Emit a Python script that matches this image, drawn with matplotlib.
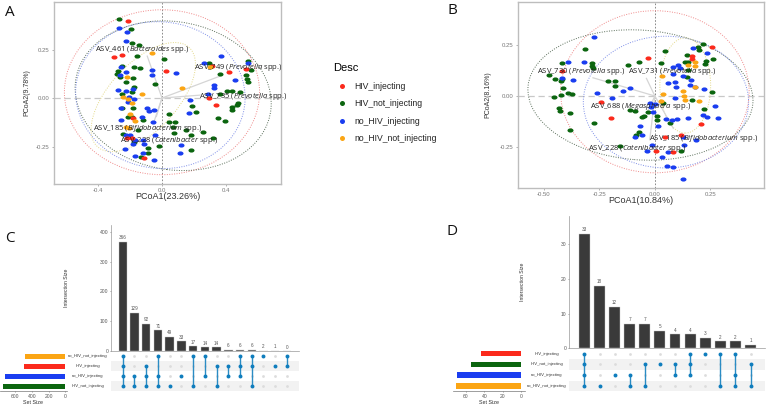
import matplotlib
matplotlib.use("Agg")
import matplotlib.pyplot as plt
from matplotlib.lines import Line2D
from matplotlib.markers import MarkerStyle
from matplotlib.patches import Ellipse
from matplotlib.transforms import Affine2D, blended_transform_factory

plt.rcParams['font.family'] = ['Liberation Sans', 'DejaVu Sans']
plt.rcParams['mathtext.fontset'] = 'custom'
plt.rcParams['mathtext.it'] = 'Open Sans:italic'
plt.rcParams['mathtext.rm'] = 'Open Sans'

W, H = 767, 404

RED = '#fb2a1c'
GREEN = '#0b650f'
BLUE = '#1a3df0'
ORANGE = '#fba514'
ELLIPSE_DARK = '#5a6e5a'
group_names = ['HIV_injecting', 'HIV_not_injecting', 'no_HIV_injecting', 'no_HIV_not_injecting']
group_colors = [RED, GREEN, BLUE, ORANGE]

# Panel A points
a_green_x = [-0.267, -0.196, -0.185, -0.142, -0.158, -0.252, -0.273, -0.279, -0.263, -0.225, -0.173, -0.138, -0.179,
             -0.175, -0.190, -0.252, -0.183, -0.252, -0.210, -0.190, -0.117, -0.246, -0.148, -0.175, -0.017, -0.085,
             -0.133, -0.085, 0.015, -0.044, 0.044, 0.046, 0.081, 0.071, 0.075, 0.150, 0.258, 0.179, 0.321, 0.181,
             0.294, 0.363, 0.540, 0.554, 0.525, 0.540, 0.533, 0.404, 0.435, 0.488, 0.363, 0.440, 0.471, 0.473, 0.435,
             0.352, 0.394, 0.185, 0.213]
a_green_y = [0.409, 0.356, 0.282, 0.273, 0.216, 0.165, 0.141, 0.124, 0.107, 0.081, 0.162, 0.156, 0.101,
             0.055, 0.033, 0.019, -0.050, -0.053, -0.096, -0.100, -0.113, -0.186, -0.165, -0.225, -0.247, -0.259,
             -0.306, -0.285, 0.201, 0.072, -0.084, -0.125, -0.124, -0.148, -0.182, -0.165, -0.174, -0.191, -0.204,
             -0.268, 0.182, 0.124, 0.189, 0.144, 0.119, 0.084, 0.098, 0.036, 0.036, 0.031, 0.019, -0.048, -0.036,
             -0.027, -0.062, -0.105, -0.119, -0.041, -0.070]
a_blue_x = [-0.267, -0.217, -0.225, -0.256, -0.225, -0.263, -0.273, -0.225, -0.179, -0.204, -0.173, -0.210, -0.256,
            -0.096, -0.081, -0.050, -0.127, -0.054, -0.258, -0.225, -0.200, -0.169, -0.117, -0.113, -0.179, -0.231,
            -0.169, -0.121, -0.050, -0.044, 0.113, 0.119, -0.065, -0.060, 0.085, 0.175, 0.171, 0.265, 0.327, 0.327,
            0.369, 0.456, 0.540, 0.290]
a_blue_y = [0.363, 0.338, 0.294, 0.162, 0.136, 0.119, 0.041, 0.036, 0.045, 0.007, -0.007, -0.019, -0.053,
            -0.053, -0.067, -0.062, -0.100, -0.125, -0.113, -0.191, -0.191, -0.216, -0.216, -0.237, -0.237, -0.263,
            -0.299, -0.285, -0.320, -0.191, -0.282, -0.242, 0.144, 0.119, 0.127, -0.010, -0.076, 0.179, 0.067, 0.053,
            0.215, 0.095, 0.182, 0.019]
a_red_x = [-0.215, -0.298, -0.248, 0.023, 0.310, 0.417, 0.525, 0.296, 0.338, -0.179, -0.217, -0.190, -0.113]
a_red_y = [0.399, 0.213, 0.222, 0.141, 0.165, 0.136, 0.148, -0.002, -0.038, -0.105, -0.208, -0.208, -0.309]
a_orange_x = [-0.065, -0.217, 0.127, -0.123, -0.246, -0.210, -0.190, -0.200, -0.169, -0.225, -0.204, 0.300]
a_orange_y = [0.230, 0.107, 0.050, 0.022, 0.003, -0.007, -0.027, -0.084, -0.117, -0.148, -0.156, 0.158]

# center x, center y, width, height, angle for each ellipse
a_ellipses = [(0.0, 0.03, 1.22, 0.85, 0, '#f08a8a'),
              (0.07, 0.012, 1.23, 0.765, -6, ELLIPSE_DARK),
              (-0.01, 0.015, 1.06, 0.756, -3, '#7f8fe8'),
              (-0.117, 0.005, 0.773, 0.38, 38, '#e3d98a')]

a_labels = ['ASV_461 ($\\mathit{Bacteroides}$ spp.)', 'ASV_749 ($\\mathit{Prevotella}$ spp.)',
            'ASV_735 ($\\mathit{Prevotella}$ spp.)', 'ASV_185 ($\\mathit{Bifidobacterium}$ spp.)',
            'ASV_228 ($\\mathit{Catenibacter}$ spp.)']
a_label_x = [-0.419, 0.200, 0.229, -0.429, -0.263]
a_label_y = [0.251, 0.156, 0.010, -0.155, -0.220]
a_tip_x = [-0.092, 0.363, 0.238, -0.050, -0.035]
a_tip_y = [0.216, 0.113, 0.015, -0.122, -0.095]

# Panel B points
b_green_x = [-0.316, -0.417, -0.283, -0.282, -0.279, -0.477, -0.449, -0.425, -0.420, -0.414, -0.392, -0.373, -0.422,
             -0.456, -0.434, -0.429, -0.383, -0.384, -0.274, -0.211, -0.178, -0.181, -0.123, -0.071, 0.029, 0.044,
             -0.113, -0.090, -0.060, -0.050, -0.030, 0.011, 0.011, 0.038, 0.068, -0.072, -0.083, -0.158, 0.120, 0.143,
             0.151, 0.136, 0.218, 0.196, 0.200, 0.229, 0.226, 0.261, 0.146, 0.151, 0.259, 0.221, 0.169]
b_green_y = [0.230, 0.164, 0.161, 0.148, 0.136, 0.102, 0.085, 0.074, 0.082, 0.038, 0.013, 0.008, 0.005,
             -0.007, -0.061, -0.072, -0.085, -0.170, -0.134, 0.075, 0.072, 0.051, 0.152, 0.167, 0.164, 0.223,
             -0.069, -0.072, -0.105, -0.098, -0.077, -0.098, -0.118, -0.033, -0.131, -0.180, -0.192, -0.246, -0.270,
             0.202, 0.169, 0.169, 0.259, 0.243, 0.226, 0.172, 0.157, 0.184, 0.095, 0.128, 0.021, -0.064, -0.020]
b_blue_x = [-0.276, -0.390, -0.319, -0.419, -0.369, -0.261, -0.194, -0.145, -0.114, -0.023, -0.018, -0.008, 0.012,
            -0.066, -0.089, -0.057, -0.015, -0.035, 0.030, 0.056, 0.083, 0.127, 0.131, 0.060, 0.128, 0.185, 0.075,
            0.101, 0.151, 0.050, 0.218, 0.233, 0.283, 0.271, 0.223, 0.173, 0.233, 0.080, 0.105, 0.113, 0.083, 0.059,
            0.090, 0.095, 0.125, 0.090, 0.158, 0.161, 0.181, 0.000]
b_blue_y = [0.289, 0.166, 0.166, 0.087, 0.079, 0.013, -0.011, 0.026, 0.041, -0.036, -0.056, -0.077, -0.148,
            -0.148, -0.200, -0.192, -0.244, -0.269, -0.302, -0.343, -0.352, -0.410, -0.244, -0.274, -0.203, -0.216,
            -0.118, -0.113, -0.107, -0.113, -0.093, -0.102, -0.110, -0.049, 0.033, 0.238, 0.210, 0.144, 0.152, 0.136,
            0.108, 0.062, 0.070, 0.046, 0.098, -0.008, 0.054, 0.079, 0.043, -0.039]
b_red_x = [-0.030, -0.420, -0.245, -0.196, 0.256, 0.166, 0.166, 0.206, 0.116, 0.045, 0.003, 0.083]
b_red_y = [0.190, 0.121, -0.028, -0.107, 0.243, 0.198, 0.182, -0.138, -0.192, -0.203, -0.269, -0.277]
b_orange_x = [0.151, 0.181, 0.181, 0.030, 0.128, 0.181, 0.133, 0.136, 0.199, 0.038, 0.026]
b_orange_y = [0.154, 0.166, 0.149, 0.100, 0.026, 0.043, 0.000, -0.020, -0.026, 0.010, -0.025]

b_ellipses = [(0.0, 0.021, 0.85, 0.80, 0, '#f08a8a'),
              (-0.065, 0.005, 1.017, 0.64, -5, ELLIPSE_DARK),
              (0.05, -0.03, 0.745, 0.65, 0, '#7f8fe8'),
              (0.137, 0.052, 0.229, 0.47, 0, '#e3d98a')]

b_labels = ['ASV_730 ($\\mathit{Prevotella}$ spp.)', 'ASV_731 ($\\mathit{Prevotella}$ spp.)',
            'ASV_688 ($\\mathit{Megasphaera}$ spp.)', 'ASV_185 ($\\mathit{Bifidobacterium}$ spp.)',
            'ASV_228 ($\\mathit{Catenibacter}$ spp.)']
b_label_x = [-0.532, -0.119, -0.291, -0.027, -0.303]
b_label_y = [0.123, 0.123, -0.052, -0.208, -0.261]
b_tip_x = [-0.279, -0.038, -0.030, 0.083, -0.023]
b_tip_y = [0.090, 0.087, -0.069, -0.159, -0.216]

# Panel C upset
c_sizes = [366, 129, 92, 71, 49, 33, 17, 14, 14, 6, 6, 6, 2, 1, 0]
c_sets = ['no_HIV_not_injecting', 'HIV_injecting', 'no_HIV_injecting', 'HIV_not_injecting']
c_set_sizes = [484, 492, 718, 746]
c_set_colors = [ORANGE, RED, BLUE, GREEN]
c_members = [[0, 1, 2, 3], [2, 3], [1, 2, 3], [0, 2, 3], [3], [2], [0, 3], [0, 2], [1, 3], [1, 2],
             [0, 1, 2], [0, 1, 3], [0], [1], [0, 1]]
c_yticks = [0, 100, 200, 300, 400]
c_set_ticks = [600, 400, 200, 0]

# Panel D upset
d_sizes = [33, 18, 12, 7, 7, 5, 4, 4, 3, 2, 2, 1]
d_sets = ['HIV_injecting', 'HIV_not_injecting', 'no_HIV_injecting', 'no_HIV_not_injecting']
d_set_sizes = [44, 54, 69, 70]
d_set_colors = [RED, GREEN, BLUE, ORANGE]
d_members = [[0, 1, 2, 3], [3], [2], [2, 3], [1, 3], [1], [1, 2], [0, 1, 2], [0], [0, 3], [0, 2, 3], [1, 3]]
d_yticks = [0, 10, 20, 30]
d_set_ticks = [60, 40, 20, 0]


def px_axes(fig, left, top, right, bottom):
    return fig.add_axes([left / W, 1 - bottom / H, (right - left) / W, (bottom - top) / H])


# Ordination panel with points, ellipses and labelled arrows
def draw_pcoa(ax, points, ellipses, labels, label_x, label_y, tip_x, tip_y, xlabel, ylabel, xticks, yticks, xlim, ylim,
              ypad):
    marker = MarkerStyle('o', transform=Affine2D().scale(1.45, 1))
    ax.axhline(0, color='#c8c8c8', lw=0.9, ls=(0, (5, 3)), zorder=1)
    ax.axvline(0, color='#777777', lw=0.6, ls=(0, (2, 2)), zorder=1)
    for cx, cy, w, h, ang, col in ellipses:
        ax.add_patch(Ellipse((cx, cy), w, h, angle=ang, fill=False, ec=col, lw=0.7, ls=(0, (1, 1.5)), zorder=2))
    for i in range(len(labels)):
        ax.plot([0, tip_x[i]], [0, tip_y[i]], color='#d5d5d5', lw=0.9, zorder=2)
    for xs, ys, col in points:
        ax.scatter(xs, ys, s=9, color=col, marker=marker, linewidths=0, zorder=3)
    for i in range(len(labels)):
        ax.text(label_x[i], label_y[i], labels[i], fontsize=5.5, color='#222222', va='center', ha='left',
                family=['Open Sans', 'DejaVu Sans'], zorder=4)
    ax.set_xlim(xlim)
    ax.set_ylim(ylim)
    ax.set_xticks(xticks)
    ax.set_yticks(yticks)
    ax.set_xticklabels(['%.1f' % t if len(xticks) == 3 else '%.2f' % t for t in xticks])
    ax.set_yticklabels(['%.2f' % t for t in yticks])
    ax.tick_params(labelsize=4.3, colors='#777777', length=1.5, width=0.4, pad=1.5)
    ax.set_xlabel(xlabel, fontsize=6.5, color='#333333', labelpad=-0.5)
    ax.set_ylabel(ylabel, fontsize=5, color='#333333', labelpad=ypad)
    for spine in ax.spines.values():
        spine.set_color('#bdbdbd')
        spine.set_linewidth(1.0)


def draw_upset(fig, bar_box, matrix_bottom, set_box, label_px, sizes, sets, set_sizes, set_colors, members,
               yticks, set_ticks, ymax, set_max, set_min, ypad):
    left, top, right, bottom = bar_box
    n = len(sizes)
    xlim = (-1.0, n + 0.03 if n == 15 else n - 0.04)

    # intersection bars
    ax = px_axes(fig, left, top, right, bottom)
    ax.bar(range(n), sizes, width=0.72, color='#3a3a3a', edgecolor='#c9c9c9', linewidth=0.3)
    for i, v in enumerate(sizes):
        ax.text(i, v + ymax * 0.012, str(v), ha='center', va='bottom', fontsize=3.3, color='#555555')
    ax.set_xlim(xlim)
    ax.set_ylim(0, ymax)
    ax.set_xticks([])
    ax.set_yticks(yticks)
    ax.tick_params(axis='y', labelsize=3.6, colors='#555555', length=1, width=0.4, pad=1)
    ax.set_ylabel('Intersection Size', fontsize=3.7, color='#333333', labelpad=ypad)
    for s in ['top', 'right']:
        ax.spines[s].set_visible(False)
    for s in ['left', 'bottom']:
        ax.spines[s].set_color('#999999')
        ax.spines[s].set_linewidth(0.5)

    # membership matrix
    mx = px_axes(fig, left, bottom, right, matrix_bottom)
    for r in [1, 3]:
        mx.axhspan(r - 0.5, r + 0.5, color='#f2f2f2', lw=0, zorder=0)
    for i in range(n):
        mx.scatter([i] * 4, range(4), s=4, color='#dcdcdc', linewidths=0, zorder=1)
        mx.plot([i] * len(members[i]), members[i], color='#2b8cc4', lw=1.0, zorder=2)
        mx.scatter([i] * len(members[i]), members[i], s=8, color='#0f7dbd', linewidths=0, zorder=3)
    mx.set_xlim(xlim)
    mx.set_ylim(3.5, -0.5)
    mx.axis('off')

    # set size bars
    sx = px_axes(fig, *set_box)
    sx.barh(range(4), set_sizes, height=0.52, color=set_colors, linewidth=0)
    sx.set_xlim(set_max, set_min)
    sx.set_ylim(3.5, -0.5)
    sx.set_yticks([])
    sx.set_xticks(set_ticks)
    sx.tick_params(axis='x', labelsize=3.6, colors='#555555', length=1, width=0.4, pad=1)
    sx.set_xlabel('Set Size', fontsize=3.9, color='#333333', labelpad=0.8)
    for s in ['top', 'right', 'left']:
        sx.spines[s].set_visible(False)
    sx.spines['bottom'].set_color('#777777')
    sx.spines['bottom'].set_linewidth(0.5)
    sx.patch.set_alpha(0)

    tr = blended_transform_factory(fig.transFigure, mx.transData)
    for r, name in enumerate(sets):
        mx.text(label_px / W, r, name, transform=tr, ha='center', va='center', fontsize=3.05, color='#333333',
                clip_on=False)


def main():
    fig = plt.figure(figsize=(W / 100, H / 100), dpi=100, facecolor='white')

    ax_a = px_axes(fig, 54, 2, 281, 184)
    draw_pcoa(ax_a, [(a_green_x, a_green_y, GREEN), (a_blue_x, a_blue_y, BLUE), (a_red_x, a_red_y, RED),
                     (a_orange_x, a_orange_y, ORANGE)],
              a_ellipses, a_labels, a_label_x, a_label_y, a_tip_x, a_tip_y,
              'PCoA1(23.26%)', 'PCoA2(9.78%)', [-0.4, 0.0, 0.4], [-0.25, 0.0, 0.25], (-0.675, 0.744), (-0.443, 0.495),
              4.5)

    ax_b = px_axes(fig, 518, 2, 764, 188)
    draw_pcoa(ax_b, [(b_green_x, b_green_y, GREEN), (b_blue_x, b_blue_y, BLUE), (b_red_x, b_red_y, RED),
                     (b_orange_x, b_orange_y, ORANGE)],
              b_ellipses, b_labels, b_label_x, b_label_y, b_tip_x, b_tip_y,
              'PCoA1(10.84%)', 'PCoA2(8.16%)', [-0.5, -0.25, 0.0, 0.25], [-0.25, 0.0, 0.25], (-0.617, 0.492),
              (-0.454, 0.464), 6.5)

    # shared legend between the two ordination panels
    handles = [Line2D([], [], ls='', marker='o', ms=3.6, color=c, mew=0) for c in group_colors]
    fig.legend(handles, group_names, loc='upper left', bbox_to_anchor=(327 / W, 1 - 57 / H), frameon=False,
               title='Desc', title_fontsize=8, fontsize=6.2, labelspacing=1.0, handletextpad=0.5,
               alignment='left', borderpad=0.2, labelcolor='#222222')

    draw_upset(fig, (111, 225, 299, 351.3), 391.3, (0, 351.3, 66.7, 391.3), 88, c_sizes, c_sets, c_set_sizes,
               c_set_colors, c_members, c_yticks, c_set_ticks, 422, 778, -16, 22)
    draw_upset(fig, (569.3, 216, 765, 348.3), 391.3, (453.3, 348.3, 524.7, 391.3), 546.7, d_sizes, d_sets,
               d_set_sizes, d_set_colors, d_members, d_yticks, d_set_ticks, 38.2, 73.4, -3.6, 26)

    for letter, x, y in [('A', 5, 13), ('B', 448, 10), ('C', 5, 238), ('D', 447, 232)]:
        fig.text(x / W, 1 - y / H, letter, fontsize=11, ha='left', va='center', color='#111111',
                 family=['Open Sans', 'DejaVu Sans'])

    fig.savefig('out.png', dpi=100)


if __name__ == "__main__":
    main()
